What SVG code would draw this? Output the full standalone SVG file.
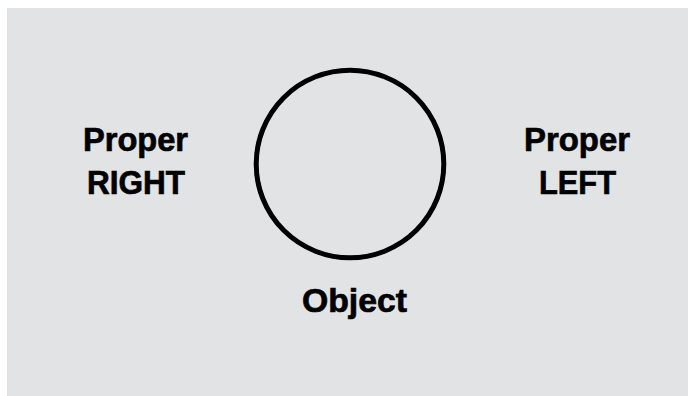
<svg xmlns="http://www.w3.org/2000/svg" width="688" height="396" viewBox="0 0 688 396">
<style>
.lbl{font-family:"Liberation Sans",Arial,sans-serif;font-weight:bold;font-size:34px;fill:#000;stroke:#000;stroke-width:0.7px;}
</style>
<rect x="0" y="0" width="688" height="396" fill="#ffffff"/>
<rect x="7" y="8" width="681" height="388" fill="#e2e3e4"/>
<g id="object">
<circle cx="350" cy="164" r="93.8" fill="none" stroke="#000" stroke-width="5"/>
<text class="lbl" x="302" y="312" textLength="105" lengthAdjust="spacingAndGlyphs">Object</text>
</g>
<g id="proper-right">
<text class="lbl" x="83" y="151" textLength="105" lengthAdjust="spacingAndGlyphs">Proper</text>
<text class="lbl" x="87" y="194" textLength="98" lengthAdjust="spacingAndGlyphs">RIGHT</text>
</g>
<g id="proper-left">
<text class="lbl" x="524" y="151" textLength="106" lengthAdjust="spacingAndGlyphs">Proper</text>
<text class="lbl" x="539" y="194" textLength="77" lengthAdjust="spacingAndGlyphs">LEFT</text>
</g>
<g id="connectors"></g>
</svg>
